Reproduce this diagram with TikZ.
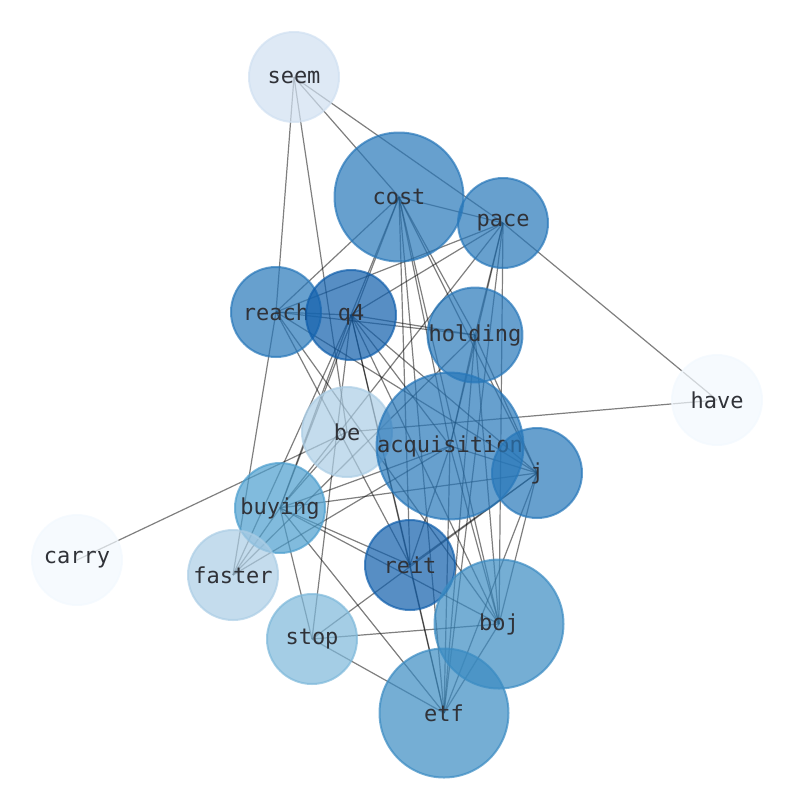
\documentclass[tikz,border=0pt]{standalone}
\usepackage{fontspec}
\newfontfamily\labelfont{DejaVu Sans Mono}
\definecolor{cA}{RGB}{39,119,185}
\definecolor{cB}{RGB}{16,94,171}
\definecolor{cC}{RGB}{58,139,194}
\definecolor{cD}{RGB}{76,158,206}
\definecolor{cE}{RGB}{125,184,218}
\definecolor{cF}{RGB}{171,205,229}
\definecolor{cG}{RGB}{208,224,241}
\definecolor{cH}{RGB}{242,248,254}
\definecolor{lbl}{RGB}{48,50,56}
\tikzset{
  vtx/.style={circle, inner sep=0pt, line width=2pt, fill=#1, draw=#1,
    fill opacity=0.7, draw opacity=0.7, text opacity=1, text=lbl,
    font=\labelfont\fontsize{22}{24}\selectfont},
  small/.style={minimum size=90pt},
  big/.style={minimum size=129pt},
  lnk/.style={draw=black, draw opacity=0.5, line width=1.2pt}
}
\begin{document}
\begin{tikzpicture}[x=1pt,y=-1pt]
\useasboundingbox (0,0) rectangle (794,790);
\coordinate (seem) at (294,77);
\coordinate (cost) at (399,197);
\coordinate (pace) at (503,223);
\coordinate (reach) at (276,312);
\coordinate (q4) at (351,315);
\coordinate (holding) at (475,335);
\coordinate (have) at (717,400);
\coordinate (be) at (347,432);
\coordinate (acquisition) at (450,446);
\coordinate (j) at (537,473);
\coordinate (buying) at (280,508);
\coordinate (carry) at (77,560);
\coordinate (faster) at (233,575);
\coordinate (reit) at (410,565);
\coordinate (stop) at (312,639);
\coordinate (boj) at (499,624);
\coordinate (etf) at (444,713);
% edges
\foreach \a/\b in {seem/reach, seem/be, seem/cost, seem/pace,
  have/pace, have/be, carry/be,
  cost/pace, cost/reach, cost/q4, cost/buying, cost/reit, cost/acquisition, cost/boj, cost/holding, cost/j, cost/etf,
  pace/reach, pace/q4, pace/buying, pace/acquisition, pace/etf, pace/boj, pace/holding,
  reach/q4, reach/holding, reach/faster, reach/reit, reach/boj, reach/j,
  q4/holding, q4/reit, q4/etf, q4/j, q4/acquisition, q4/faster, q4/stop, q4/buying, q4/boj,
  holding/acquisition, holding/etf, holding/boj, holding/j, holding/faster,
  acquisition/j, acquisition/etf, acquisition/reit, acquisition/boj, acquisition/buying, acquisition/faster,
  be/buying,
  j/buying, j/reit, j/stop, j/etf, j/boj,
  buying/faster, buying/reit, buying/boj, buying/etf, buying/stop,
  stop/boj, stop/etf, boj/etf, reit/etf}
  \draw[lnk] (\a) -- (\b);
% nodes
\node[vtx=cG, small] (n-seem) at (seem) {seem};
\node[vtx=cA, big] (n-cost) at (cost) {cost};
\node[vtx=cA, small] (n-pace) at (pace) {pace};
\node[vtx=cA, small] (n-reach) at (reach) {reach};
\node[vtx=cB, small] (n-q4) at (q4) {q4};
\node[vtx=cA, small] (n-holding) at (holding) {holding};
\node[vtx=cH, small] (n-have) at (have) {have};
\node[vtx=cF, small] (n-be) at (be) {be};
\node[vtx=cA, big] (n-acquisition) at (acquisition) {acquisition};
\node[vtx=cA, small] (n-j) at (j) {j};
\node[vtx=cD, small] (n-buying) at (buying) {buying};
\node[vtx=cH, small] (n-carry) at (carry) {carry};
\node[vtx=cF, small] (n-faster) at (faster) {faster};
\node[vtx=cB, small] (n-reit) at (reit) {reit};
\node[vtx=cE, small] (n-stop) at (stop) {stop};
\node[vtx=cC, big] (n-boj) at (boj) {boj};
\node[vtx=cC, big] (n-etf) at (etf) {etf};
\end{tikzpicture}
\end{document}
